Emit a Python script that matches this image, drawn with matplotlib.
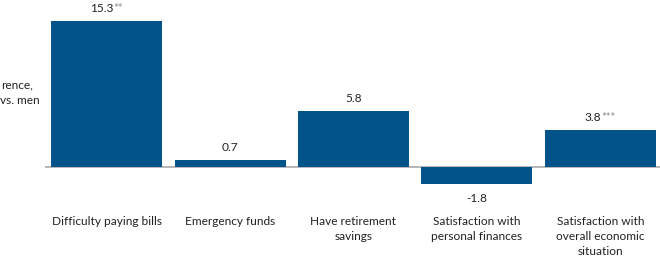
import matplotlib
matplotlib.use("Agg")
import matplotlib.pyplot as plt
from matplotlib.offsetbox import TextArea, HPacker, AnnotationBbox

categories = ["Difficulty paying bills", "Emergency funds", "Have retirement\nsavings",
              "Satisfaction with\npersonal finances", "Satisfaction with\noverall economic\nsituation"]
values = [15.3, 0.7, 5.8, -1.8, 3.8]
value_labels = ["15.3", "0.7", "5.8", "-1.8", "3.8"]
stars = ["**", "", "", "", "***"]
ylabel_lines = ["rence,", "vs. men"]

FONT = "Lato"
BAR = "#02538a"
FS = 8.6
W, H = 660, 267
fig = plt.figure(figsize=(6.6, 2.67), dpi=100)
# axes in pixels: left 45, right ~662, zero line at y=166.5
ax = fig.add_axes([45 / W, (H - 200) / H, 617 / W, (200 - 8) / H])
x = list(range(len(values)))
ax.bar(x, values, width=0.9, color=BAR, zorder=2)
ax.set_xlim(-0.5, len(values) - 0.5)
ppu = 9.54
ax.set_ylim(-(200 - 166.5) / ppu, (166.5 - 8) / ppu)
ax.axhline(0, color="#aaaaaa", lw=1.2, zorder=1)
for s in ax.spines.values():
    s.set_visible(False)
ax.set_yticks([])
ax.set_xticks([])

for i, (v, lab, st) in enumerate(zip(values, value_labels, stars)):
    parts = [TextArea(lab, textprops=dict(fontsize=FS, color="#222222", family=FONT))]
    if st:
        parts.append(TextArea(st, textprops=dict(fontsize=8, color="#8a8a8a", family=FONT)))
    pack = HPacker(children=parts, align="top", pad=0, sep=0)
    if v >= 0:
        ab = AnnotationBbox(pack, (i, v), xybox=(0, 5), xycoords="data", boxcoords="offset points",
                            box_alignment=(0.5, 0), frameon=False, pad=0)
    else:
        ab = AnnotationBbox(pack, (i, v), xybox=(0, -7), xycoords="data", boxcoords="offset points",
                            box_alignment=(0.5, 1), frameon=False, pad=0)
    ax.add_artist(ab)

for i, c in enumerate(categories):
    ax.text(i, -(216 - 166.5) / ppu, c, ha="center", va="top", fontsize=FS, color="#222222",
            family=FONT, linespacing=1.45)

fig.text(33 / W, 1 - 85 / H, ylabel_lines[0], ha="right", va="center", fontsize=FS,
         color="#222222", family=FONT)
fig.text(40 / W, 1 - 101 / H, ylabel_lines[1], ha="right", va="center", fontsize=FS,
         color="#222222", family=FONT)

fig.savefig("out.png", dpi=100)
